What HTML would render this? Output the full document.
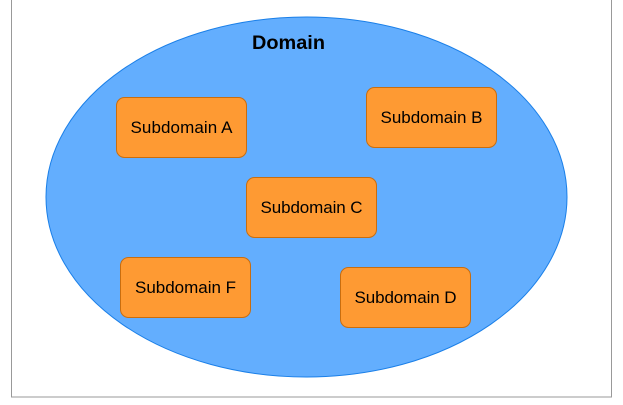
<!DOCTYPE html>
<html><head><style>body{margin:0;background:#fff}</style></head><body>
<svg width="623" height="400" xmlns="http://www.w3.org/2000/svg" font-family="Liberation Sans, Arial, sans-serif">
<rect x="11.5" y="-5" width="600" height="402" fill="#fff" stroke="#999" stroke-width="1"/>
<ellipse cx="306.5" cy="197" rx="260.5" ry="180" fill="#63aefe" stroke="#1a7fe8" stroke-width="1"/>
<text x="288.5" y="49" text-anchor="middle" font-size="19" font-weight="bold" fill="#000" textLength="73" lengthAdjust="spacingAndGlyphs">Domain</text>
<g fill="#fe9a33" stroke="#c96d0e" stroke-width="1">
<rect x="116.5" y="97.5" width="130" height="60" rx="8"/>
<rect x="366.5" y="87.5" width="130" height="60" rx="8"/>
<rect x="246.5" y="177.5" width="130" height="60" rx="8"/>
<rect x="120.5" y="257.5" width="130" height="60" rx="8"/>
<rect x="340.5" y="267.5" width="130" height="60" rx="8"/>
</g>
<g font-size="17" text-anchor="middle" fill="#000" lengthAdjust="spacingAndGlyphs">
<text x="181.5" y="133" textLength="102">Subdomain A</text>
<text x="431.5" y="123" textLength="102">Subdomain B</text>
<text x="311.5" y="213" textLength="102">Subdomain C</text>
<text x="185.5" y="293" textLength="101">Subdomain F</text>
<text x="405.5" y="303" textLength="102">Subdomain D</text>
</g>
</svg>
</body></html>
